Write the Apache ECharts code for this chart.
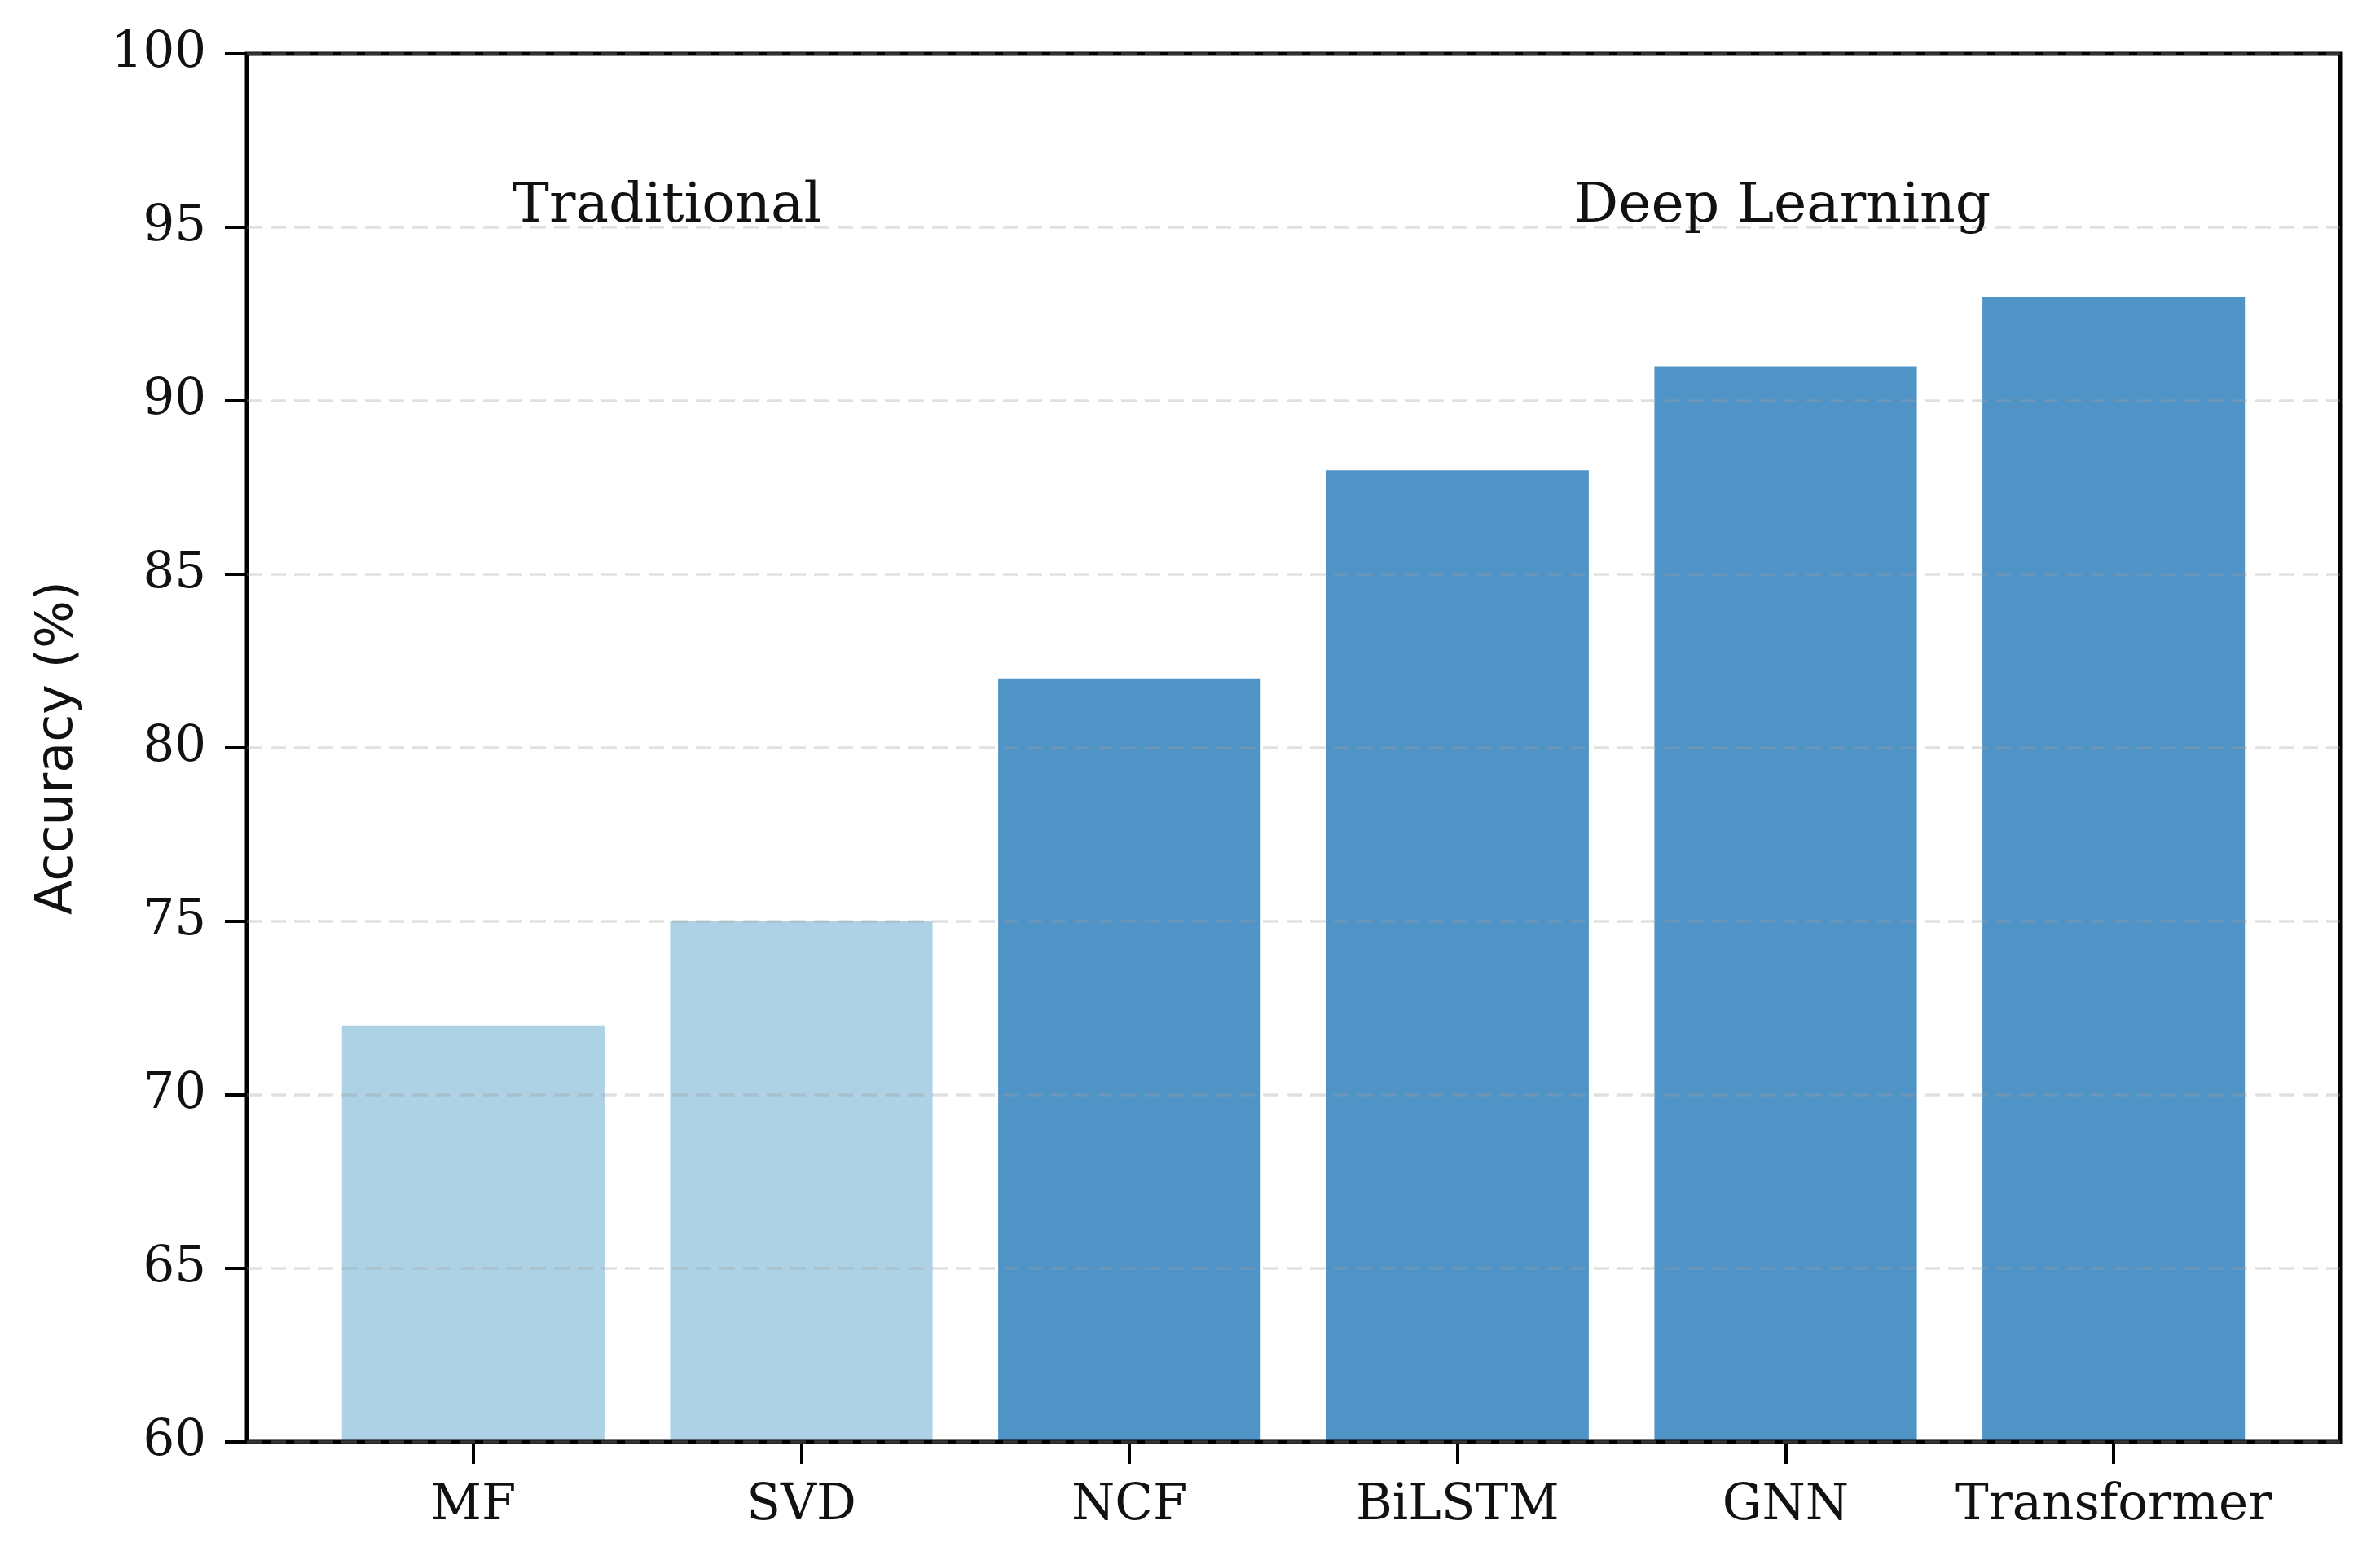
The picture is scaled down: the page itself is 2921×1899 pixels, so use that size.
<!DOCTYPE html>
<html>
<head>
<meta charset="utf-8">
<script src="https://cdn.jsdelivr.net/npm/echarts@6/dist/echarts.min.js"></script>
<style>
html,body{margin:0;padding:0;background:#fff;}
#chart{width:2921px;height:1899px;}
</style>
</head>
<body>
<div id="chart"></div>
<script>
// ---- data ----
const categories = ['MF', 'SVD', 'NCF', 'BiLSTM', 'GNN', 'Transformer'];
const accuracy = [72, 75, 82, 88, 91, 93];
const groups = ['Traditional', 'Traditional', 'Deep Learning', 'Deep Learning', 'Deep Learning', 'Deep Learning'];
const yTicks = [60, 65, 70, 75, 80, 85, 90, 95, 100];
const groupLabels = ['Traditional', 'Deep Learning'];
const groupLabelX = [0.59, 3.99];
const groupLabelY = [95, 95];
const groupColors = { 'Traditional': '#ADD1E5', 'Deep Learning': '#5093C6' };

// ---- layout ----
const W = 2921, H = 1899;
const plotL = 303, plotR = 2872, plotT = 66, plotB = 1770;
const xMin = -0.69, xMax = 5.69;
const unit = (plotR - plotL) / (xMax - xMin);
const barGridL = plotL + (-0.5 - xMin) * unit;
const barGridR = plotR - (xMax - 5.5) * unit;

const serif = 'DejaVu Serif';
const chart = echarts.init(document.getElementById('chart'), null, { renderer: 'canvas', width: W, height: H });

const option = {
  backgroundColor: '#ffffff',
  animation: false,
  grid: [
    { left: plotL, right: W - plotR, top: plotT, bottom: H - plotB, show: true, borderColor: '#000', borderWidth: 5, backgroundColor: 'transparent', z: 4 },
    { left: barGridL, right: W - barGridR, top: plotT, bottom: H - plotB }
  ],
  xAxis: [
    { type: 'value', gridIndex: 0, min: xMin, max: xMax, show: false, axisLine: { onZero: false } },
    {
      type: 'category', gridIndex: 1, data: categories,
      axisLine: { show: false, onZero: false },
      axisTick: { show: true, alignWithLabel: true, interval: 0, length: 27, lineStyle: { color: '#000', width: 4 } },
      axisLabel: { color: '#111', fontFamily: serif, fontSize: 61, margin: 49, interval: 0 },
      splitLine: { show: false }
    }
  ],
  yAxis: [
    {
      type: 'value', gridIndex: 0, min: yTicks[0], max: yTicks[yTicks.length - 1], interval: 5, z: 5,
      axisLine: { show: false, onZero: false },
      axisTick: { show: true, length: 27, lineStyle: { color: '#000', width: 4 } },
      axisLabel: { color: '#111', fontFamily: serif, fontSize: 61, margin: 50 },
      splitLine: { show: true, lineStyle: { color: 'rgba(160,160,160,0.32)', width: 3.5, type: [19, 10] } },
      name: 'Accuracy (%)', nameLocation: 'middle', nameRotate: 90, nameGap: 200,
      nameTextStyle: { fontFamily: 'DejaVu Sans', fontSize: 62, color: '#111' }
    },
    { type: 'value', gridIndex: 1, min: yTicks[0], max: yTicks[yTicks.length - 1], show: false, axisLine: { onZero: false } }
  ],
  series: [
    {
      type: 'bar', xAxisIndex: 1, yAxisIndex: 1, barWidth: '80%', z: 2,
      data: accuracy.map((v, i) => ({ value: v, itemStyle: { color: groupColors[groups[i]] } }))
    }
  ]
};
chart.setOption(option);

const texts = groupLabels.map((t, i) => {
  const p = chart.convertToPixel({ xAxisIndex: 0, yAxisIndex: 0 }, [groupLabelX[i], groupLabelY[i]]);
  return {
    type: 'text', x: p[0], y: p[1] + 9, z: 10,
    style: { text: t, fontFamily: serif, fontSize: 68, fill: '#111', textAlign: 'center', textVerticalAlign: 'bottom' }
  };
});
chart.setOption({ graphic: texts });
</script>
</body>
</html>
